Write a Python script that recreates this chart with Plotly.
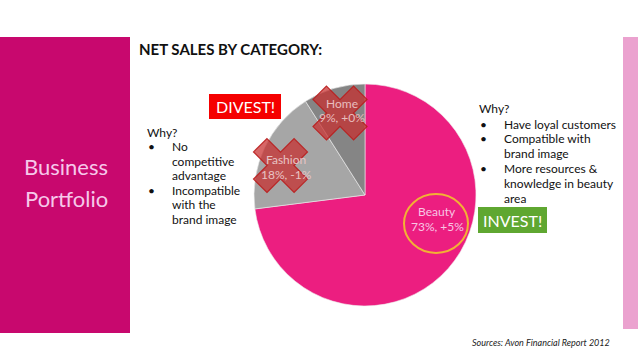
import math
import plotly.graph_objects as go

W, H = 638, 359

categories = ["Beauty", "Fashion", "Home"]
shares = [73, 18, 9]
changes = ["+5%", "-1%", "+0%"]
slice_colors = ["#EC1E80", "#A6A6A6", "#858585"]

left_why = ["No", "competitive", "advantage", "Incompatible", "with the", "brand image"]
left_bullet_rows = [0, 3]
right_why = ["Have loyal customers", "Compatible with", "brand image",
             "More resources &", "knowledge in beauty", "area"]
right_bullet_rows = [0, 1, 3]

def px(x):
    return x / W

def py(y):
    return 1 - y / H

FONT = "Lato, 'Open Sans', sans-serif"

fig = go.Figure()
fig.add_trace(go.Pie(
    labels=categories, values=shares, sort=False, direction="clockwise", rotation=0,
    marker=dict(colors=slice_colors, line=dict(color="#EEEEEE", width=0.6)),
    textinfo="none", hoverinfo="label+percent", showlegend=False,
    domain=dict(x=[px(254), px(476)], y=[py(306), py(84)]),
))

shapes = []
annotations = []

def text(x, y, s, font, xanchor="center"):
    annotations.append(dict(x=px(x), y=py(y), xref="paper", yref="paper", xanchor=xanchor,
                            yanchor="middle", text=s, showarrow=False, font=font))

# left magenta panel
shapes.append(dict(type="rect", xref="paper", yref="paper", x0=0, x1=px(130), y0=py(333), y1=py(37),
                   fillcolor="#C8086E", line=dict(width=0), layer="below"))
# right pink stripe
shapes.append(dict(type="rect", xref="paper", yref="paper", x0=px(623), x1=1, y0=py(329), y1=py(37),
                   fillcolor="#EBA2CF", line=dict(width=0), layer="below"))
# DIVEST box
shapes.append(dict(type="rect", xref="paper", yref="paper", x0=px(209), x1=px(281), y0=py(119), y1=py(94),
                   fillcolor="#F50000", line=dict(width=0)))
# INVEST box
shapes.append(dict(type="rect", xref="paper", yref="paper", x0=px(478), x1=px(547), y0=py(233), y1=py(207),
                   fillcolor="#5FA731", line=dict(width=0)))

def cross_path(cx, cy, half_extent, thick):
    h = thick / 2
    L = half_extent * math.sqrt(2) - h
    pts = [(h, L), (h, h), (L, h), (L, -h), (h, -h), (h, -L), (-h, -L), (-h, -h),
           (-L, -h), (-L, h), (-h, h), (-h, L)]
    c = math.cos(math.pi / 4)
    out = []
    for (a, b) in pts:
        rx = a * c - b * c
        ry = a * c + b * c
        out.append((px(cx + rx), py(cy + ry)))
    return "M " + " L ".join(f"{x:.5f},{y:.5f}" for x, y in out) + " Z"

# labels inside pie
label_pos = {"Beauty": (437, 211, 226), "Fashion": (286, 159, 174), "Home": (342, 103, 118)}
label_colors = {"Beauty": "#F8C6E4", "Fashion": "#E8C4C4", "Home": "#E8BEBE"}
for cat, sh, ch in zip(categories, shares, changes):
    x, y1, y2 = label_pos[cat]
    f = dict(family=FONT, size=12, color=label_colors[cat])
    text(x, y1, cat, f)
    text(x, y2, f"{sh}%, {ch}", f)

# red crosses over divest slices
for (cx, cy) in [(340, 113), (280.5, 165.5)]:
    shapes.append(dict(type="path", xref="paper", yref="paper", path=cross_path(cx, cy, 27, 19),
                       fillcolor="rgba(200,45,45,0.72)", line=dict(color="rgba(185,30,30,0.9)", width=1.2)))

# beauty ellipse
shapes.append(dict(type="circle", xref="paper", yref="paper", x0=px(404), x1=px(468), y0=py(253), y1=py(194),
                   line=dict(color="#F2B234", width=2)))

# texts
text(66, 166, "Business", dict(family=FONT, size=22, color="#F6C8EA"))
text(66, 199, "Portfolio", dict(family=FONT, size=22, color="#F6C8EA"))
text(137, 49, "<b>NET SALES BY CATEGORY:</b>", dict(family=FONT, size=15, color="#111111"), "left")
text(245, 106.5, "DIVEST!", dict(family=FONT, size=16, color="white"))
text(512.5, 220, "INVEST!", dict(family=FONT, size=16, color="white"))

body = dict(family=FONT, size=12, color="#111111")
text(145, 132, "Why?", body, "left")
for i, line in enumerate(left_why):
    yy = 146.5 + i * 14.6
    text(170, yy, line, body, "left")
    if i in left_bullet_rows:
        text(146, yy, "•", body, "left")

text(477, 108, "Why?", body, "left")
for i, line in enumerate(right_why):
    yy = 124 + i * 14.8
    text(502, yy, line, body, "left")
    if i in right_bullet_rows:
        text(478, yy, "•", body, "left")

text(612, 342, "<i>Sources: Avon Financial Report 2012</i>",
     dict(family=FONT, size=9, color="#222222"), "right")

fig.update_layout(width=W, height=H, margin=dict(l=0, r=0, t=0, b=0),
                  paper_bgcolor="white", plot_bgcolor="white",
                  shapes=shapes, annotations=annotations)

fig.write_html("out.html", config={"displayModeBar": False},
               post_script="document.body.style.margin='0';")
